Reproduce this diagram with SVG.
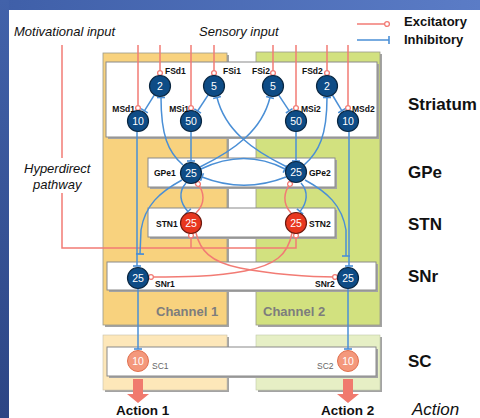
<svg xmlns="http://www.w3.org/2000/svg" width="480" height="418" viewBox="0 0 480 418">
<defs>
<linearGradient id="gTop" x1="0" y1="0" x2="1" y2="0"><stop offset="0" stop-color="#3f5fa8"/><stop offset="1" stop-color="#5b7cc6"/></linearGradient>
<linearGradient id="gLeft" x1="0" y1="0" x2="0" y2="1"><stop offset="0" stop-color="#4262aa"/><stop offset="1" stop-color="#2c4584"/></linearGradient>
<marker id="tb" markerWidth="3" markerHeight="9" refX="1.5" refY="4.5" orient="auto" markerUnits="userSpaceOnUse"><path d="M1.5,0.5 V8.5" stroke="#4a8fd6" stroke-width="1.6"/></marker>
<marker id="cp" markerWidth="8" markerHeight="8" refX="4" refY="4" orient="auto" markerUnits="userSpaceOnUse"><circle cx="4" cy="4" r="2.4" fill="#fff" stroke="#f27b74" stroke-width="1.3"/></marker>
<style>
.bx{fill:#fff;stroke:#8a8a8a;stroke-width:1}
.sh{fill:#a3a3a3}
.nd{fill:#0e4c86;stroke:#0a2742;stroke-width:1.2}
.st{fill:#e8371f;stroke:#6e1a10;stroke-width:1.2}
.sc{fill:#f4987c;stroke:#e0704e;stroke-width:1}
.num{font-family:"Liberation Sans",Arial,sans-serif;font-size:10.5px;fill:#fff;text-anchor:middle}
.lb{font-family:"Liberation Sans",Arial,sans-serif;font-size:8.5px;font-weight:bold;fill:#111}
.lg{font-family:"Liberation Sans",Arial,sans-serif;font-size:8.5px;fill:#666}
.big{font-family:"Liberation Sans",Arial,sans-serif;font-size:17px;font-weight:bold;fill:#111}
.it{font-family:"Liberation Sans",Arial,sans-serif;font-size:13px;font-style:italic;fill:#111}
.leg{font-family:"Liberation Sans",Arial,sans-serif;font-size:13px;font-weight:bold;fill:#111}
.ch{font-family:"Liberation Sans",Arial,sans-serif;font-size:13px;font-weight:bold;fill:#7d7d7d}
.act{font-family:"Liberation Sans",Arial,sans-serif;font-size:13.5px;font-weight:bold;fill:#111}
.b{fill:none;stroke:#4a8fd6;stroke-width:1.5;marker-end:url(#tb)}
.e{fill:none;stroke:#f27b74;stroke-width:1.5;marker-end:url(#cp)}
.en{fill:none;stroke:#f27b74;stroke-width:1.5}
</style>
</defs>
<!-- background -->
<rect x="0" y="0" width="480" height="418" fill="#fff"/>
<rect x="0" y="0" width="480" height="10" fill="url(#gTop)"/>
<rect x="0" y="0" width="9" height="418" fill="url(#gLeft)"/>

<!-- channel backgrounds -->
<g id="channel1">
<rect class="sh" x="105" y="55" width="124" height="272"/>
<rect x="103" y="53" width="124" height="272" fill="#f8d27e" stroke="#9a9a8a" stroke-width="0.8"/>
<text class="ch" x="156" y="316">Channel 1</text>
<rect class="sh" x="105" y="337" width="124" height="55"/>
<rect x="103" y="335" width="124" height="55" fill="#fde7b9" stroke="#c8c0a8" stroke-width="0.6"/>
</g>
<g id="channel2">
<rect class="sh" x="258" y="54" width="124" height="273"/>
<rect x="256" y="52" width="124" height="273" fill="#d2e17f" stroke="#9a9a8a" stroke-width="0.8"/>
<text class="ch" x="263" y="316">Channel 2</text>
<rect class="sh" x="258" y="337" width="124" height="55"/>
<rect x="256" y="335" width="124" height="55" fill="#e6efc5" stroke="#c0c8a8" stroke-width="0.6"/>
</g>

<!-- layer boxes -->
<g id="boxes">
<rect class="sh" x="108" y="64" width="271" height="75"/>
<rect class="bx" x="106" y="62" width="271" height="75"/>
<rect class="sh" x="150" y="160" width="187" height="29"/>
<rect class="bx" x="148" y="158" width="187" height="29"/>
<rect class="sh" x="150" y="210" width="187" height="29"/>
<rect class="bx" x="148" y="208" width="187" height="29"/>
<rect class="sh" x="109" y="264" width="269" height="28"/>
<rect class="bx" x="107" y="262" width="269" height="28"/>
<rect class="sh" x="109" y="349" width="269" height="29"/>
<rect class="bx" x="107" y="347" width="269" height="29"/>
</g>

<!-- connectors -->
<g id="connectors">
<!-- inputs -->
<path class="e" d="M138,45 V108"/>
<path class="e" d="M160,45 V73"/>
<path class="e" d="M191,45 V108"/>
<path class="e" d="M214,45 V73"/>
<path class="e" d="M273,45 V73"/>
<path class="e" d="M296,45 V108"/>
<path class="e" d="M327,45 V73"/>
<path class="e" d="M348,45 V108"/>
<!-- hyperdirect -->
<path class="en" d="M62,45 V158"/>
<path class="e" d="M62,193 V248 H296 V235.5"/>
<path class="e" d="M191,248 V235.5"/>
<!-- striatum internal -->
<path class="b" d="M154.4,94.9 L144.4,110.8"/>
<path class="b" d="M208.2,94.8 L197.6,111"/>
<path class="b" d="M278.6,94.9 L289.2,110.8"/>
<path class="b" d="M332.4,95 L341.8,110.7"/>
<!-- MS outputs -->
<path class="b" d="M137,131.5 V266"/>
<path class="b" d="M191,131.5 V161"/>
<path class="b" d="M296,131.5 V161"/>
<path class="b" d="M349,131.5 V266"/>
<!-- GPe to FS -->
<path class="b" d="M183,165 C168,152 161,135 161,97.5"/>
<path class="b" d="M304,165 C319,152 327,135 327,97.5"/>
<path class="b" d="M200,167 C235,150 262,130 270,97.5"/>
<path class="b" d="M287,167 C252,150 225,130 217,97.5"/>
<!-- GPe to GPe -->
<path class="b" d="M201,169 C230,155 258,155 285,169"/>
<path class="b" d="M286,177 C258,188 230,188 202,177"/>
<!-- GPe <-> STN -->
<path class="b" d="M186,183 C178,192 180,203 188,211.5"/>
<path class="e" d="M196,213 C206,203 204,192 198,184"/>
<path class="b" d="M301,183 C309,192 307,203 300,211.5"/>
<path class="e" d="M291,213 C282,203 284,192 290,184"/>
<!-- GPe to SNr -->
<path class="b" d="M182,180 C160,192 145,205 141,230 L140,254"/>
<path class="b" d="M305,180 C327,192 342,205 346,230 L346,256"/>
<!-- STN to SNr -->
<path class="e" d="M196,233 C200,250 210,262 240,268 C270,274 310,277 335,277"/>
<path class="e" d="M292,233 C288,255 275,265 245,271 C215,277 180,277 151,277"/>
<!-- SNr to SC -->
<path class="b" d="M138,288.5 V349"/>
<path class="b" d="M348,288.5 V349"/>
</g>

<!-- nodes -->
<g id="FSd1"><circle class="nd" cx="160" cy="86" r="10.5"/><text class="num" x="160" y="89.7">2</text><text class="lb" x="165" y="74">FSd1</text></g>
<g id="FSi1"><circle class="nd" cx="214" cy="86" r="10.5"/><text class="num" x="214" y="89.7">5</text><text class="lb" x="223" y="74">FSi1</text></g>
<g id="MSd1"><circle class="nd" cx="138" cy="121" r="10.5"/><text class="num" x="138" y="124.7">10</text><text class="lb" x="135" y="112" text-anchor="end">MSd1</text></g>
<g id="MSi1"><circle class="nd" cx="191" cy="121" r="10.5"/><text class="num" x="191" y="124.7">50</text><text class="lb" x="189" y="112" text-anchor="end">MSi1</text></g>
<g id="FSi2"><circle class="nd" cx="273" cy="86" r="10.5"/><text class="num" x="273" y="89.7">5</text><text class="lb" x="252" y="74">FSi2</text></g>
<g id="FSd2"><circle class="nd" cx="327" cy="86" r="10.5"/><text class="num" x="327" y="89.7">2</text><text class="lb" x="302" y="74">FSd2</text></g>
<g id="MSi2"><circle class="nd" cx="296" cy="121" r="10.5"/><text class="num" x="296" y="124.7">50</text><text class="lb" x="301" y="112">MSi2</text></g>
<g id="MSd2"><circle class="nd" cx="348" cy="121" r="10.5"/><text class="num" x="348" y="124.7">10</text><text class="lb" x="352" y="112">MSd2</text></g>
<g id="GPe1"><circle class="nd" cx="191" cy="173" r="10.5"/><text class="num" x="191" y="176.7">25</text><text class="lb" x="154" y="176">GPe1</text></g>
<g id="GPe2"><circle class="nd" cx="296" cy="172" r="10.5"/><text class="num" x="296" y="175.7">25</text><text class="lb" x="309" y="176">GPe2</text></g>
<g id="STN1"><circle class="st" cx="191" cy="223" r="10.5"/><text class="num" x="191" y="226.7">25</text><text class="lb" x="156" y="227">STN1</text></g>
<g id="STN2"><circle class="st" cx="296" cy="223" r="10.5"/><text class="num" x="296" y="226.7">25</text><text class="lb" x="309" y="227">STN2</text></g>
<g id="SNr1"><circle class="nd" cx="138" cy="278" r="10.5"/><text class="num" x="138" y="281.7">25</text><text class="lb" x="155" y="287">SNr1</text></g>
<g id="SNr2"><circle class="nd" cx="348" cy="278" r="10.5"/><text class="num" x="348" y="281.7">25</text><text class="lb" x="315" y="287">SNr2</text></g>
<g id="SC1"><circle class="sc" cx="138" cy="361" r="10.5"/><text class="num" x="138" y="364.7">10</text><text class="lg" x="152" y="369">SC1</text></g>
<g id="SC2"><circle class="sc" cx="348" cy="361" r="10.5"/><text class="num" x="348" y="364.7">10</text><text class="lg" x="317" y="369">SC2</text></g>

<!-- action arrows -->
<g id="action1"><polygon points="133,379 143,379 143,394 149,394 138,403 127,394 133,394" fill="#f07a6e"/><text class="act" x="116" y="415">Action 1</text></g>
<g id="action2"><polygon points="343,379 353,379 353,394 359,394 348,403 337,394 343,394" fill="#f07a6e"/><text class="act" x="321" y="415">Action 2</text></g>

<!-- texts -->
<g id="labels">
<text class="it" x="14" y="36">Motivational input</text>
<text class="it" x="199" y="36">Sensory input</text>
<text class="it" x="24" y="173">Hyperdirect</text>
<text class="it" x="33" y="189">pathway</text>
<text class="big" x="408" y="110">Striatum</text>
<text class="big" x="408" y="178">GPe</text>
<text class="big" x="408" y="230">STN</text>
<text class="big" x="408" y="282">SNr</text>
<text class="big" x="408" y="367">SC</text>
<text class="it" x="412" y="415" style="font-size:17px;font-weight:normal">Action</text>
</g>

<!-- legend -->
<g id="legend">
<path class="e" d="M357,24 H387"/>
<text class="leg" x="404" y="26">Excitatory</text>
<path class="b" d="M357,40 H389"/>
<text class="leg" x="404" y="44">Inhibitory</text>
</g>
</svg>
